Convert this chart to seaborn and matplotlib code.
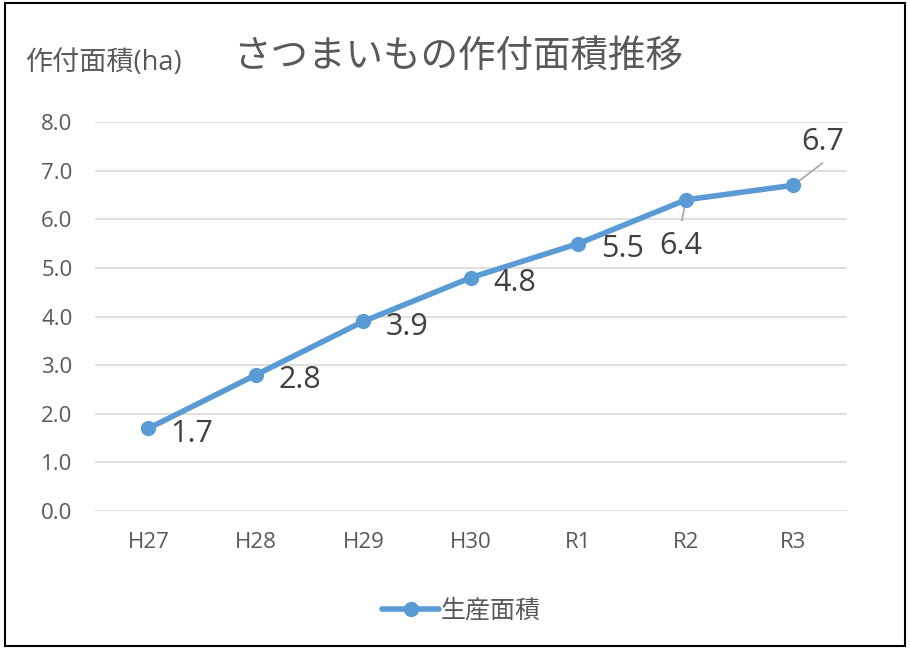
import matplotlib
matplotlib.use("Agg")
import matplotlib.pyplot as plt
import seaborn as sns
import pandas as pd
from matplotlib.patches import Rectangle

categories = ["H27", "H28", "H29", "H30", "R1", "R2", "R3"]
values = [1.7, 2.8, 3.9, 4.8, 5.5, 6.4, 6.7]
series_name = "生産面積"
title = "さつまいもの作付面積推移"
ylabel = "作付面積(ha)"
yticks = [0, 1, 2, 3, 4, 5, 6, 7, 8]

sns.set_theme(style="white")
plt.rcParams['font.family'] = ['Open Sans', 'Noto Sans CJK JP', 'DejaVu Sans']

df = pd.DataFrame({"cat": categories, "val": values, "series": series_name})

fig = plt.figure(figsize=(9.1, 6.5), dpi=100)
ax = fig.add_axes([0.104, 0.2138, 0.827, 0.5985])

line_color = "#5B9BD5"
text_color = "#595959"

sns.lineplot(data=df, x="cat", y="val", hue="series", palette=[line_color],
             marker="o", markersize=11, linewidth=4, markeredgewidth=0,
             sort=False, ax=ax, zorder=3)

ax.set_xlim(-0.5, len(categories) - 0.5)
ax.set_ylim(0, 8)
ax.set_yticks(yticks)
ax.set_yticklabels([f"{v:.1f}" for v in yticks], fontsize=16, color=text_color)
ax.tick_params(axis="x", labelsize=16, labelcolor=text_color, pad=15, length=0)
ax.tick_params(axis="y", pad=16, length=0)
ax.grid(axis="y", color="#D9D9D9", linewidth=1.2)
ax.set_axisbelow(True)
for s in ax.spines.values():
    s.set_visible(False)
ax.set_xlabel("")
ax.set_ylabel("")

# data labels
lab_fs = 22
leader = dict(arrowstyle="-", color="#A6A6A6", lw=1.2, shrinkA=0, shrinkB=5)
for i, v in enumerate(values):
    if i == 5:
        ax.annotate("", xy=(i, v), xytext=(-3, -15), textcoords="offset points",
                    arrowprops=leader, zorder=2)
        ax.annotate(f"{v:.1f}", xy=(i, v), xytext=(-4, -33), textcoords="offset points",
                    fontsize=lab_fs, color="#404040", ha="center", va="center")
    elif i == 6:
        ax.annotate("", xy=(i, v), xytext=(21, 16), textcoords="offset points",
                    arrowprops=leader, zorder=2)
        ax.annotate(f"{v:.1f}", xy=(i, v), xytext=(21, 31), textcoords="offset points",
                    fontsize=lab_fs, color="#404040", ha="center", va="center")
    else:
        ax.annotate(f"{v:.1f}", xy=(i, v), xytext=(16, -4), textcoords="offset points",
                    fontsize=lab_fs, color="#404040", ha="left", va="center")

leg = ax.legend(loc="center", bbox_to_anchor=(0.487, -0.257), frameon=False,
                fontsize=18, handlelength=2.3, handletextpad=0.05,
                labelcolor=text_color)

fig.text(0.503, 0.912, title, fontsize=27, color=text_color, ha="center", va="center")
fig.text(0.027, 0.903, ylabel, fontsize=19.5, color=text_color, ha="left", va="center")

fig.patches.append(Rectangle((0.006, 0.006), 0.988, 0.99, transform=fig.transFigure,
                             fill=False, edgecolor="black", linewidth=1.5))

fig.savefig("out.png", dpi=100)
